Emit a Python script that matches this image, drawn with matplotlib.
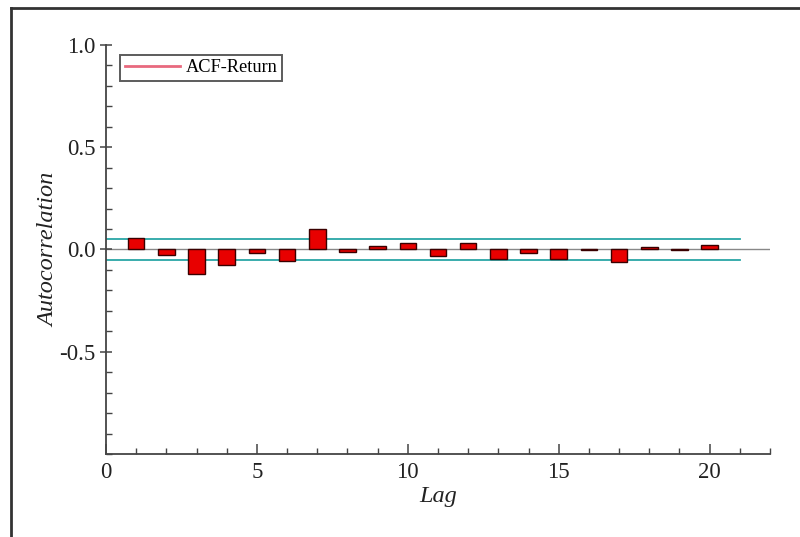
import matplotlib.pyplot as plt
from matplotlib.lines import Line2D
from matplotlib.ticker import MultipleLocator

# ACF of returns, lags 1..20
lags = list(range(1, 21))
acf = [0.055, -0.026, -0.12, -0.075, -0.015, -0.057, 0.102, -0.01, 0.016, 0.031,
       -0.033, 0.034, -0.048, -0.016, -0.048, -0.003, -0.062, 0.013, -0.004, 0.023]
conf = 0.049  # approx. 95% band

plt.rcParams['font.family'] = ['Liberation Serif', 'DejaVu Serif']
plt.rcParams['axes.unicode_minus'] = False

fig = plt.figure(figsize=(8, 5.37), dpi=100)
ax = fig.add_axes([0.1325, 0.1546, 0.83, 0.7616])

# reference lines
ax.plot([0, 22], [0, 0], color='#888888', lw=1, zorder=1)
ax.plot([0, 21], [conf, conf], color='#2aa6a6', lw=1.3, zorder=1)
ax.plot([0, 21], [-conf, -conf], color='#2aa6a6', lw=1.3, zorder=1)

ax.bar(lags, acf, width=0.55, color='#e80000', edgecolor='#3a0000', lw=1.0, zorder=3)

# legend uses a plain line handle
handle = Line2D([], [], color='#e8697e', lw=2)
leg = ax.legend([handle], ['ACF-Return'], loc='upper left', bbox_to_anchor=(0.021, 0.976),
                borderaxespad=0, fancybox=False, fontsize=13.2, handlelength=3.0,
                borderpad=0.25, handletextpad=0.35)
leg.get_frame().set_edgecolor('#333333')
leg.get_frame().set_linewidth(1.4)

ax.set_xlim(0, 22)
ax.set_ylim(-1.0, 1.0)
ax.set_xticks([0, 5, 10, 15, 20])
ax.xaxis.set_minor_locator(MultipleLocator(1))
ax.set_yticks([-0.5, 0.0, 0.5, 1.0])
ax.yaxis.set_minor_locator(MultipleLocator(0.1))

ax.spines['top'].set_visible(False)
ax.spines['right'].set_visible(False)
for s in ('left', 'bottom'):
    ax.spines[s].set_color('#444444')
    ax.spines[s].set_linewidth(1.3)

ax.tick_params(which='major', direction='inout', length=8, width=1.1, colors='#444444',
               labelsize=16.5, labelcolor='#222222')
ax.tick_params(which='minor', direction='in', length=4, width=1.0, colors='#444444')
ax.tick_params(axis='x', which='major', direction='in', length=7, pad=6)

ax.set_xlabel('Lag', fontsize=17.5, style='italic', color='#222222', labelpad=2)
ax.set_ylabel('Autocorrelation', fontsize=17.5, style='italic', color='#222222', labelpad=0)

# outer frame on the left and top edges
fig.add_artist(Line2D([0.014, 0.014], [0, 0.985], transform=fig.transFigure, color='#333333', lw=2))
fig.add_artist(Line2D([0.014, 1], [0.985, 0.985], transform=fig.transFigure, color='#333333', lw=2))

fig.savefig('out.png', dpi=100)
